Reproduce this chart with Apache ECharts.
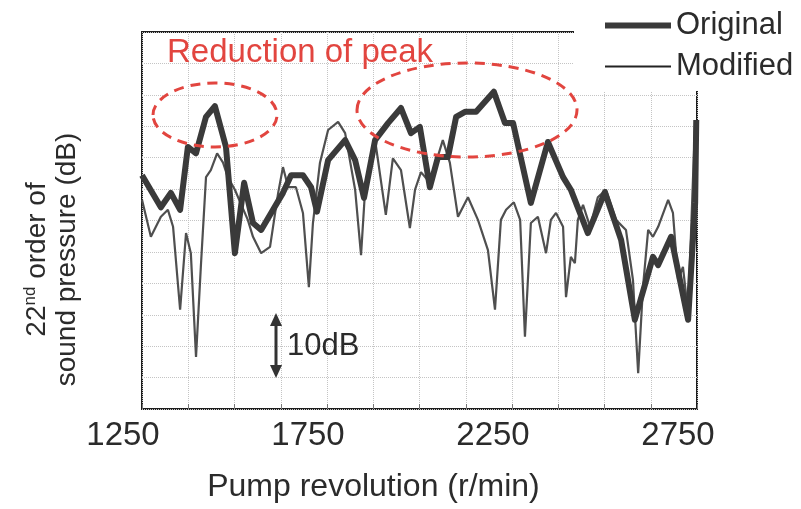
<!DOCTYPE html>
<html>
<head>
<meta charset="utf-8">
<script src="https://cdn.jsdelivr.net/npm/echarts@6/dist/echarts.min.js"></script>
<style>
html,body{margin:0;padding:0;background:#fff;}
#c{width:801px;height:509px;}
</style>
</head>
<body>
<div id="c"></div>
<script>
// ---- data ----
var origRpm = [1250,1301,1328,1353,1374,1396,1423,1447,1477,1501,1526,1550,1572,1599,1631,1653,1685,1707,1723,1753,1799,1826,1850,1880,1915,1950,1977,2001,2028,2050,2077,2099,2123,2153,2201,2231,2253,2301,2347,2388,2409,2455,2501,2545,2582,2631,2645,2680,2726,2745,2748];
var origDb  = [37.2,32.1,34.4,31.7,41.7,40.7,46.5,48.2,41.7,24.8,36.0,29.6,28.5,31.2,34.4,37.2,37.2,35.3,31.4,39.6,42.8,39.6,33.6,42.8,45.5,47.9,43.9,44.9,35.3,40.1,40.1,46.5,47.3,47.3,50.5,45.5,45.5,32.8,42.5,36.9,34.9,28.0,34.5,26.9,14.2,24.2,22.9,27.4,14.2,32.8,46.0];

var modRpm = [1250,1274,1301,1320,1334,1353,1369,1382,1396,1409,1423,1436,1453,1469,1482,1501,1536,1550,1572,1596,1618,1631,1645,1666,1685,1701,1712,1731,1753,1780,1799,1826,1842,1853,1880,1909,1928,1950,1974,1988,2004,2028,2063,2082,2104,2131,2158,2185,2204,2220,2234,2255,2272,2285,2301,2320,2342,2355,2369,2388,2396,2409,2420,2428,2442,2461,2482,2504,2531,2558,2577,2591,2604,2618,2631,2645,2672,2685,2699,2712,2726,2739,2745];
var modDb  = [33.3,27.4,30.6,31.7,29.0,15.8,28.0,24.8,8.3,22.6,36.9,38.0,40.7,39.2,36.9,34.9,30.1,27.4,24.8,25.8,34.4,38.5,35.3,35.3,31.2,19.4,29.6,39.2,44.4,45.7,43.9,34.9,24.5,34.9,42.8,30.9,39.9,38.0,28.8,34.9,37.7,36.0,42.8,39.2,30.6,33.7,30.1,25.3,15.8,30.1,31.7,32.9,30.1,11.5,29.6,30.6,24.8,30.1,31.2,29.0,17.8,24.2,23.2,30.1,32.5,29.0,33.7,34.9,30.1,28.5,20.5,5.7,19.4,28.5,27.4,29.0,33.3,31.2,20.5,22.6,15.3,36.4,45.5];

var seriesNames = ['Original', 'Modified'];
var xTicks = {min: 1250, max: 2750, step: 125};
var yRange = {min: 0, max: 60, step: 5};

function pairs(xs, ys) { return xs.map(function (x, i) { return [x, ys[i]]; }); }

var FONT = 'Liberation Sans, Arial, sans-serif';
var TXT = '#2b2b2b';
var RED = '#e2453f';
var ORIG_C = '#3a3a3a';
var MOD_C = '#4f4f4f';

var chart = echarts.init(document.getElementById('c'), null, {renderer: 'canvas'});
chart.setOption({
  animation: false,
  backgroundColor: '#fff',
  title: {
    text: 'Reduction of peak',
    left: 162, top: 31,
    textStyle: {color: RED, fontFamily: FONT, fontSize: 33, fontWeight: 'normal'}
  },
  legend: {
    orient: 'vertical',
    left: 602, top: 10,
    padding: 0,
    itemWidth: 66, itemHeight: 26, itemGap: 10,
    textStyle: {color: TXT, fontFamily: FONT, fontSize: 31},
    data: [
      {name: seriesNames[0], lineStyle: {width: 6, color: ORIG_C}, itemStyle: {opacity: 0}},
      {name: seriesNames[1], lineStyle: {width: 2, color: '#222'}, itemStyle: {opacity: 0}}
    ]
  },
  grid: {
    left: 142, right: 104, top: 32, bottom: 100,
    containLabel: false, outerBoundsMode: 'none',
    show: true, borderColor: '#1e1e1e', borderWidth: 2, backgroundColor: 'transparent'
  },
  xAxis: {
    type: 'value',
    min: xTicks.min, max: xTicks.max, interval: xTicks.step,
    axisLine: {show: false},
    axisTick: {show: true, inside: true, length: 5, lineStyle: {color: '#777'}},
    splitLine: {show: true, lineStyle: {type: 'dotted', color: '#c4c4c4', width: 1}},
    axisLabel: {
      interval: 3,
      formatter: function (v) { return ((v - 1250) % 500 === 0) ? String(v) : ''; },
      color: TXT, fontFamily: FONT, fontSize: 33, margin: 10,
      padding: [0, 38, 0, 0]
    },
    name: 'Pump revolution (r/min)',
    nameLocation: 'middle', nameGap: 62,
    nameTextStyle: {color: TXT, fontFamily: FONT, fontSize: 32, padding: [0, 92, 0, 0]}
  },
  yAxis: {
    type: 'value',
    min: yRange.min, max: yRange.max, interval: yRange.step,
    axisLine: {show: false},
    axisTick: {show: false},
    axisLabel: {show: false},
    splitLine: {show: true, lineStyle: {type: 'dotted', color: '#c4c4c4', width: 1}},
    name: '22{sup|nd} order of\nsound pressure (dB)',
    nameLocation: 'middle', nameRotate: 90, nameGap: 60,
    nameTextStyle: {
      color: TXT, fontFamily: FONT, fontSize: 28, lineHeight: 30,
      padding: [0, 78, 0, 0],
      rich: {sup: {fontSize: 17, verticalAlign: 'top', color: TXT, fontFamily: FONT, lineHeight: 30}}
    }
  },
  series: [
    {
      name: seriesNames[1], type: 'line', data: pairs(modRpm, modDb),
      symbol: 'none', smooth: false, z: 2,
      itemStyle: {color: MOD_C},
      lineStyle: {color: MOD_C, width: 2.2}
    },
    {
      name: seriesNames[0], type: 'line', data: pairs(origRpm, origDb),
      symbol: 'none', smooth: false, z: 3,
      itemStyle: {color: ORIG_C},
      lineStyle: {color: ORIG_C, width: 6, join: 'round'}
    }
  ],
  graphic: [
    {type: 'rect', z: 3, shape: {x: 574, y: 0, width: 227, height: 91}, style: {fill: '#fff'}},
    {type: 'ellipse', z: 10, shape: {cx: 215, cy: 115, rx: 62, ry: 32},
      style: {fill: 'none', stroke: RED, lineWidth: 3, lineDash: [10, 7]}},
    {type: 'ellipse', z: 10, shape: {cx: 467, cy: 110, rx: 110, ry: 47},
      style: {fill: 'none', stroke: RED, lineWidth: 3, lineDash: [10, 7]}},
    {type: 'line', z: 10, shape: {x1: 276, y1: 322, x2: 276, y2: 369}, style: {stroke: '#333', lineWidth: 3}},
    {type: 'polygon', z: 10, shape: {points: [[276, 313], [270, 326], [282, 326]]}, style: {fill: '#333'}},
    {type: 'polygon', z: 10, shape: {points: [[276, 378], [270, 365], [282, 365]]}, style: {fill: '#333'}},
    {type: 'text', z: 10, x: 287, y: 346,
      style: {text: '10dB', fill: TXT, font: '31px Liberation Sans, Arial, sans-serif', textVerticalAlign: 'middle'}}
  ]
});
</script>
</body>
</html>
